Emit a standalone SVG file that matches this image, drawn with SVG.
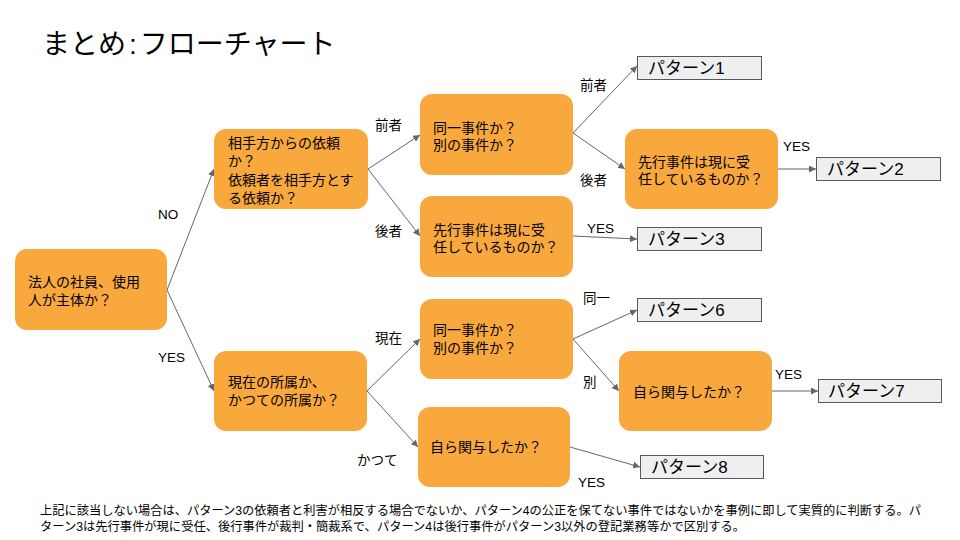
<svg xmlns="http://www.w3.org/2000/svg" width="960" height="540" viewBox="0 0 960 540">
<defs>
<style>
text{font-family:"Liberation Sans","Noto Sans CJK JP",sans-serif;fill:#000}
.q rect{fill:#F9A83E;stroke:none}
.q text{font-size:14px}
.p rect{fill:#EFEFEF;stroke:#595959;stroke-width:1}
.p text{font-size:17px}
.lbl{font-size:13.5px}
.edge{stroke:#666;stroke-width:1;fill:none;marker-end:url(#ah)}
.note{font-size:12.5px}
</style>
<marker id="ah" viewBox="0 0 10 10" refX="10" refY="5" markerWidth="7" markerHeight="7" markerUnits="userSpaceOnUse" orient="auto">
<path d="M0,0 L10,5 L0,10 z" fill="#666"/>
</marker>
</defs>
<rect width="960" height="540" fill="#fff"/>
<text x="42" y="54" style="font-size:28px">まとめ<tspan dx="3">:</tspan><tspan dx="3">フローチャート</tspan></text>

<g id="connectors">
<line class="edge" x1="167" y1="290" x2="214" y2="169"/>
<line class="edge" x1="167" y1="290" x2="214" y2="391"/>
<line class="edge" x1="368" y1="169" x2="420" y2="135"/>
<line class="edge" x1="368" y1="169" x2="420" y2="236"/>
<line class="edge" x1="573" y1="133" x2="637" y2="66"/>
<line class="edge" x1="573" y1="133" x2="625" y2="169"/>
<line class="edge" x1="778" y1="169" x2="816" y2="169"/>
<line class="edge" x1="573" y1="236" x2="637" y2="239"/>
<line class="edge" x1="367" y1="391" x2="420" y2="339"/>
<line class="edge" x1="367" y1="391" x2="418" y2="447"/>
<line class="edge" x1="573" y1="339" x2="637" y2="310"/>
<line class="edge" x1="573" y1="339" x2="619" y2="391"/>
<line class="edge" x1="772" y1="391" x2="818" y2="391"/>
<line class="edge" x1="570" y1="447" x2="640" y2="467"/>
<text class="lbl" x="158" y="219">NO</text>
<text class="lbl" x="158" y="362">YES</text>
<text class="lbl" x="375" y="130">前者</text>
<text class="lbl" x="375" y="236">後者</text>
<text class="lbl" x="580" y="90">前者</text>
<text class="lbl" x="580" y="185">後者</text>
<text class="lbl" x="783" y="151">YES</text>
<text class="lbl" x="587" y="233">YES</text>
<text class="lbl" x="375" y="343">現在</text>
<text class="lbl" x="357" y="465">かつて</text>
<text class="lbl" x="583" y="303">同一</text>
<text class="lbl" x="583" y="387">別</text>
<text class="lbl" x="775" y="379">YES</text>
<text class="lbl" x="578" y="487">YES</text>
</g>

<g id="n-root" class="q"><rect x="15" y="249" width="152" height="81" rx="12"/>
<text x="28" y="287">法人の社員、使用</text><text x="28" y="305">人が主体か？</text></g>

<g id="n-irai" class="q"><rect x="214" y="129" width="154" height="80" rx="12"/>
<text x="228" y="148">相手方からの依頼</text><text x="228" y="166">か？</text>
<text x="228" y="185">依頼者を相手方とす</text><text x="228" y="203">る依頼か？</text></g>

<g id="n-jiken1" class="q"><rect x="420" y="94" width="153" height="81" rx="12"/>
<text x="433" y="133">同一事件か？</text><text x="433" y="150">別の事件か？</text></g>

<g id="n-senko1" class="q"><rect x="420" y="196" width="153" height="81" rx="12"/>
<text x="433" y="235">先行事件は現に受</text><text x="433" y="252">任しているものか？</text></g>

<g id="n-senko2" class="q"><rect x="625" y="129" width="153" height="80" rx="12"/>
<text x="638" y="167">先行事件は現に受</text><text x="638" y="184">任しているものか？</text></g>

<g id="n-shozoku" class="q"><rect x="214" y="351" width="153" height="80" rx="12"/>
<text x="228" y="387">現在の所属か、</text><text x="228" y="405">かつての所属か？</text></g>

<g id="n-jiken2" class="q"><rect x="420" y="299" width="153" height="80" rx="12"/>
<text x="433" y="335">同一事件か？</text><text x="433" y="353">別の事件か？</text></g>

<g id="n-kanyo1" class="q"><rect x="418" y="407" width="152" height="80" rx="12"/>
<text x="430" y="452">自ら関与したか？</text></g>

<g id="n-kanyo2" class="q"><rect x="619" y="351" width="153" height="80" rx="12"/>
<text x="633" y="397">自ら関与したか？</text></g>

<g id="p1" class="p"><rect x="637.5" y="56.5" width="124" height="23"/><text x="648" y="74">パターン1</text></g>
<g id="p2" class="p"><rect x="816.5" y="157.5" width="124" height="23"/><text x="827" y="175">パターン2</text></g>
<g id="p3" class="p"><rect x="637.5" y="227.5" width="124" height="23"/><text x="648" y="245">パターン3</text></g>
<g id="p6" class="p"><rect x="637.5" y="298.5" width="124" height="23"/><text x="648" y="316">パターン6</text></g>
<g id="p7" class="p"><rect x="818.5" y="379.5" width="123" height="23"/><text x="828" y="397">パターン7</text></g>
<g id="p8" class="p"><rect x="640.5" y="455.5" width="123" height="23"/><text x="651" y="473">パターン8</text></g>

<text class="note" x="40" y="515" textLength="881" lengthAdjust="spacingAndGlyphs">上記に該当しない場合は、パターン3の依頼者と利害が相反する場合でないか、パターン4の公正を保てない事件ではないかを事例に即して実質的に判断する。パ</text>
<text class="note" x="40" y="531" textLength="705" lengthAdjust="spacingAndGlyphs">ターン3は先行事件が現に受任、後行事件が裁判・簡裁系で、パターン4は後行事件がパターン3以外の登記業務等かで区別する。</text>
</svg>
